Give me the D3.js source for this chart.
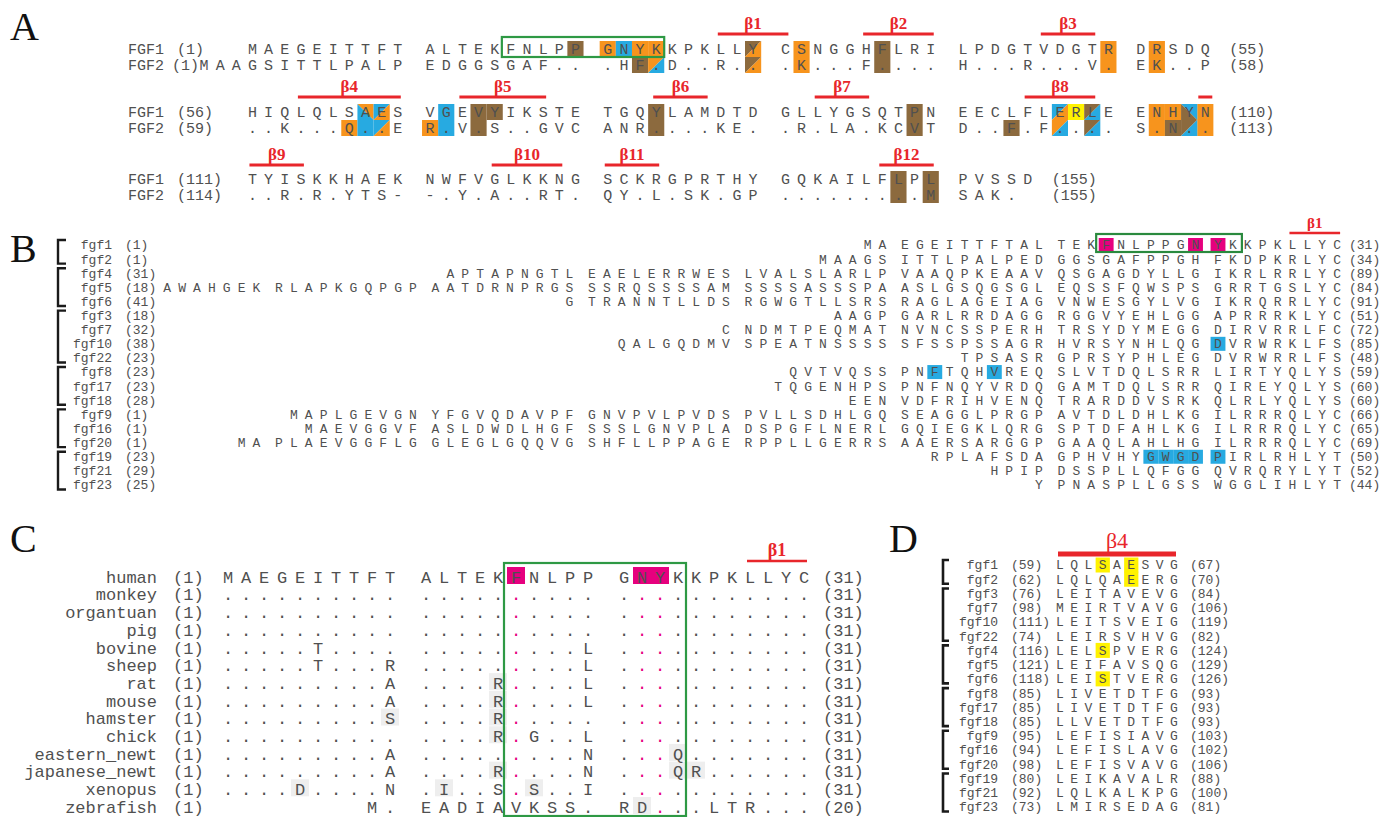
<!DOCTYPE html>
<html><head><meta charset="utf-8">
<script src="https://cdn.jsdelivr.net/npm/d3@7"></script>
<style>
html,body{margin:0;padding:0;background:#fff;}
svg{display:block;}
</style></head><body>
<svg id="fig" width="1382" height="817"></svg>
<script>
// ---------- Panel A: FGF1 / FGF2 pairwise alignment ----------
const alignA_fgf1 = [
  "   MAEGEITTFT ALTEKFNLPP GNYKKPKLLY CSNGGHFLRI LPDGTVDGTR DRSDQ",
  "   HIQLQLSAES VGEVYIKSTE TGQYLAMDTD GLLYGSQTPN EECLFLERLE ENHYN",
  "   TYISKKHAEK NWFVGLKKNG SCKRGPRTHY GQKAILFLPL PVSSD"
];
const alignA_fgf2 = [
  "MAAGSITTLPALP EDGGSGAF.. .HF.D..R.. .K...F.... H...R...V. EK..P",
  "   ..K...Q..E R.V.S..GVC ANR....KE. .R.LA.KCVT D..F.F.... S.N..",
  "   ..R.R.YTS- -.Y.A..RT. QY.L.SK.GP .........M SAK."
];
const alignA_startFgf1 = [1, 56, 111];
const alignA_startFgf2 = [1, 59, 114];
const alignA_endFgf1 = [55, 110, 155];
const alignA_endFgf2 = [58, 113, 155];
// shaded cells: [line, sequence (0 = FGF1, 1 = FGF2), FGF1 residue column, colour]
const shadeA = [
  [0,0,20,"brown"],[0,0,21,"orange"],[0,0,22,"blue"],[0,0,23,"orange"],[0,0,24,"orange"],
  [0,1,23,"brown"],[0,0,32,"orange"],[0,1,32,"orange"],[0,0,37,"brown"],[0,1,37,"brown"],
  [0,0,50,"orange"],[0,1,50,"orange"],[0,0,52,"orange"],[0,1,52,"orange"],
  [1,1,62,"orange"],[1,1,63,"blue"],[1,1,66,"orange"],[1,0,67,"blue"],[1,1,67,"blue"],
  [1,0,69,"brown"],[1,0,70,"brown"],[1,1,69,"brown"],[1,0,79,"brown"],[1,1,79,"brown"],
  [1,0,94,"brown"],[1,1,94,"brown"],[1,1,99,"brown"],[1,0,103,"yellow"],
  [1,0,107,"orange"],[1,1,107,"orange"],[1,0,108,"orange"],[1,1,108,"brown"],
  [1,0,110,"orange"],[1,1,110,"orange"],
  [2,0,148,"brown"],[2,1,148,"brown"],[2,0,150,"brown"],[2,1,150,"brown"]
];
// two-colour cells: [line, sequence, residue, diagonal, first, second]
// "\\" = upper-left / lower-right halves, "/" = upper-right / lower-left halves
const splitA = [
  [0,1,24,"\\","orange","blue"],
  [0,0,30,"\\","brown","orange"],[0,1,30,"\\","brown","orange"],
  [1,0,63,"/","orange","blue"],[1,0,64,"\\","blue","orange"],[1,1,64,"\\","blue","orange"],
  [1,0,102,"\\","blue","orange"],[1,1,102,"\\","orange","blue"],
  [1,0,104,"\\","brown","blue"],[1,1,104,"\\","brown","blue"],
  [1,0,109,"/","blue","brown"],[1,1,109,"\\","brown","blue"]
];
// beta strands: [line, label, first residue, last residue]
const strandsA = [
  [0,"β1",28,31],[0,"β2",36,40],[0,"β3",46,49],
  [1,"β4",59,65],[1,"β5",68,73],[1,"β6",79,82],[1,"β7",88,91],[1,"β8",100,104],[1,"",110,110],
  [2,"β9",111,114],[2,"β10",125,129],[2,"β11",131,134],[2,"β12",147,150]
];
const motifA = [16, 24];

// ---------- Panel B: FGF family N-terminal region ----------
const famB_names = ["fgf1","fgf2","fgf4","fgf5","fgf6","fgf3","fgf7","fgf10","fgf22",
  "fgf8","fgf17","fgf18","fgf9","fgf16","fgf20","fgf19","fgf21","fgf23"];
const famB_start = [1,1,31,18,41,18,32,38,23,23,23,28,1,1,1,23,29,25];
const famB_end = [31,34,89,84,91,51,72,85,48,59,60,60,66,65,69,50,52,44];
const famB_seq = [
  "MA EGEITTFTAL TEKFNLPPGN YKKPKLLYC",
  "MAAGS ITTLPALPED GGSGAFPPGH FKDPKRLYC",
  "APTAPNGTL EAELERRWES LVALSLARLP VAAQPKEAAV QSGAGDYLLG IKRLRRLYC",
  "AWAHGEK RLAPKGQPGP AATDRNPRGS SSRQSSSSAM SSSSASSSPA ASLGSQGSGL EQSSFQWSPS GRRTGSLYC",
  "G TRANNTLLDS RGWGTLLSRS RAGLAGEIAG VNWESGYLVG IKRQRRLYC",
  "AAGP GARLRRDAGG RGGVYEHLGG APRRRKLYC",
  "C NDMTPEQMAT NVNCSSPERH TRSYDYMEGG DIRVRRLFC",
  "QALGQDMV SPEATNSSSS SFSSPSSAGR HVRSYNHLQG DVRWRKLFS",
  "TPSASR GPRSYPHLEG DVRWRRLFS",
  "QVTVQSS PNFTQHVREQ SLVTDQLSRR LIRTYQLYS",
  "TQGENHPS PNFNQYVRDQ GAMTDQLSRR QIREYQLYS",
  "EEN VDFRIHVENQ TRARDDVSRK QLRLYQLYS",
  "MAPLGEVGN YFGVQDAVPF GNVPVLPVDS PVLLSDHLGQ SEAGGLPRGP AVTDLDHLKG ILRRRQLYC",
  "MAEVGGVF ASLDWDLHGF SSSLGNVPLA DSPGFLNERL GQIEGKLQRG SPTDFAHLKG ILRRRQLYC",
  "MA PLAEVGGFLG GLEGLGQQVG SHFLLPPAGE RPPLLGERRS AAERSARGGP GAAQLAHLHG ILRRRQLYC",
  "RPLAFSDA GPHVHYGWGD PIRLRHLYT",
  "HPIP DSSPLLQFGG QVRQRYLYT",
  "Y PNASPLLGSS WGGLIHLYT"
];
const groupsB = [["fgf1","fgf2"],["fgf4","fgf5","fgf6"],["fgf3","fgf7","fgf10","fgf22"],
  ["fgf8","fgf17","fgf18"],["fgf9","fgf16","fgf20"],["fgf19","fgf21","fgf23"]];
// shaded cells: [name, block counted from the right, column in block, colour]
const shadeB = [["fgf1",1,3,"magenta"],["fgf1",1,9,"magenta"],["fgf1",0,0,"magenta"],
  ["fgf10",0,0,"blue"],["fgf8",2,2,"blue"],["fgf8",2,6,"blue"],
  ["fgf19",1,6,"blue"],["fgf19",1,7,"blue"],["fgf19",1,8,"blue"],["fgf19",1,9,"blue"],["fgf19",0,0,"blue"]];
const motifB = ["fgf1", [1,3], [0,1]];
const strandB = ["β1", [0,5], [0,8]];

// ---------- Panel C: FGF1 N-terminus across species ----------
const speciesC = ["human","monkey","organtuan","pig","bovine","sheep","rat","mouse",
  "hamster","chick","eastern_newt","japanese_newt","xenopus","zebrafish"];
const startC = [1,1,1,1,1,1,1,1,1,1,1,1,1,1];
const endC = [31,31,31,31,31,31,31,31,31,31,31,31,31,20];
const seqC = [
  "MAEGEITTFT ALTEKFNLPP GNYKKPKLLYC",
  ".......... .......... ...........",
  ".......... .......... ...........",
  ".......... .......... ...........",
  ".....T.... .........L ...........",
  ".....T...R .........L ...........",
  ".........A ....R....L ...........",
  ".........A ....R....L ...........",
  ".........S ....R..... ...........",
  ".......... ....R.G..L ...........",
  ".........A .........N ...Q.......",
  ".........A ....R....N ...QR......",
  "....D....N .I..S.S..I ...........",
  "        M. EADIAVKSS. RD...LTR..."
];
const keyResC = [16, 22, 23];
// light grey cells: [species, alignment slot]
const greyC = [["hamster",9],["rat",15],["mouse",15],["hamster",15],["chick",15],["japanese_newt",15],
  ["eastern_newt",25],["japanese_newt",25],["japanese_newt",26],["xenopus",4],["xenopus",12],
  ["xenopus",17],["zebrafish",23]];
const motifC = [16, 25];
const strandC = ["β1", 28, 31];

// ---------- Panel D: beta4 strand across the family ----------
const famD_names = ["fgf1","fgf2","fgf3","fgf7","fgf10","fgf22","fgf4","fgf5","fgf6",
  "fgf8","fgf17","fgf18","fgf9","fgf16","fgf20","fgf19","fgf21","fgf23"];
const famD_start = [59,62,76,98,111,74,116,121,118,85,85,85,95,94,98,80,92,73];
const famD_end = [67,70,84,106,119,82,124,129,126,93,93,93,103,102,106,88,100,81];
const famD_seq = ["LQLSAESVG","LQLQAEERG","LEITAVEVG","MEIRTVAVG","LEITSVEIG","LEIRSVHVG",
  "LELSPVERG","LEIFAVSQG","LEISTVERG","LIVETDTFG","LIVETDTFG","LLVETDTFG",
  "LEFISIAVG","LEFISLAVG","LEFISVAVG","LEIKAVALR","LQLKALKPG","LMIRSEDAG"];
const groupsD = [["fgf1","fgf2"],["fgf3","fgf7","fgf10","fgf22"],["fgf4","fgf5","fgf6"],
  ["fgf8","fgf17","fgf18"],["fgf9","fgf16","fgf20"],["fgf19","fgf21","fgf23"]];
const shadeD = [["fgf1",3],["fgf1",5],["fgf2",5],["fgf4",3],["fgf6",3]];
const strandD = ["β4", 0, 8];

// ---------- drawing ----------
const palette = {orange:"#f7941d", blue:"#27aae1", brown:"#8c6a3e", yellow:"#fff200",
  magenta:"#e6007e", grey:"#eeeeee"};
const RED = "#e8262b", GREEN = "#2e9944", INK = "#505050";
const MONO = "'Liberation Mono','DejaVu Sans Mono',monospace";
const SERIF = "'Liberation Serif','DejaVu Serif',serif";
const svg = d3.select("#fig");

function residueSlots(str, first) {
  const m = new Map(); let n = first;
  for (let i = 0; i < str.length; i++) if (str[i] !== " ") { m.set(n, i); n++; }
  return m;
}
function seqText(g, chars, size, fill) {
  g.selectAll(null).data(chars).join("text")
    .attr("x", d => d.x).attr("y", d => d.y + size * 0.34)
    .attr("text-anchor", "middle").attr("font-family", MONO)
    .attr("font-size", size).attr("fill", d => d.fill || fill).text(d => d.ch);
}
function label(g, txt, x, y, size, anchor, opts = {}) {
  return g.append("text").attr("x", x).attr("y", y + size * 0.34)
    .attr("text-anchor", anchor).attr("font-family", opts.family || MONO)
    .attr("font-size", size).attr("font-weight", opts.weight || "normal")
    .attr("fill", opts.fill || INK).text(txt);
}
function panelLetter(txt, x, y) {
  svg.append("text").attr("x", x).attr("y", y).attr("font-family", SERIF)
    .attr("font-size", 40).attr("fill", "#111").text(txt);
}
function strand(g, x1, x2, yBar, lbl, size, width, weight) {
  g.append("line").attr("x1", x1).attr("x2", x2).attr("y1", yBar).attr("y2", yBar)
    .attr("stroke", RED).attr("stroke-width", width);
  if (lbl) g.append("text").attr("x", (x1 + x2) / 2).attr("y", yBar - width / 2 - 4)
    .attr("text-anchor", "middle").attr("font-family", SERIF).attr("font-size", size)
    .attr("font-weight", weight).attr("fill", RED).text(lbl);
}
function bracket(g, x, y1, y2, tick, w) {
  g.append("path").attr("d", `M${x + tick},${y1}H${x}V${y2}H${x + tick}`)
    .attr("fill", "none").attr("stroke", "#1a1a1a").attr("stroke-width", w)
    .attr("stroke-linecap", "butt");
}
function splitCell(g, x0, y0, w, h, dir, c1, c2) {
  const x1 = x0 + w, y1 = y0 + h;
  const tri = dir === "\\"
    ? [[[x0,y0],[x1,y0],[x0,y1]], [[x1,y0],[x1,y1],[x0,y1]]]
    : [[[x0,y0],[x1,y0],[x1,y1]], [[x0,y0],[x1,y1],[x0,y1]]];
  [c1, c2].forEach((c, i) => g.append("path").attr("d", d3.line()(tri[i]) + "Z")
    .attr("fill", palette[c]));
}

// Panel A
(function () {
  const g = svg.append("g");
  const xA = d3.scaleLinear().domain([0, 62]).range([204, 1205.3]);
  const lineY = d3.scaleOrdinal().domain([0, 1, 2]).range([49, 112, 179]);
  const pitch = xA(1) - xA(0), rowStep = 16, fs = 15;
  const slots = alignA_fgf1.map((s, i) => residueSlots(s, alignA_startFgf1[i]));
  const rowY = (line, seq) => lineY(line) + seq * rowStep;
  const cellTop = (line, seq) => rowY(line, seq) - 8;

  shadeA.forEach(([line, seq, res, c]) => {
    g.append("rect").attr("x", xA(slots[line].get(res)) - pitch / 2).attr("y", cellTop(line, seq))
      .attr("width", pitch).attr("height", rowStep).attr("fill", palette[c]);
  });
  splitA.forEach(([line, seq, res, dir, c1, c2]) => {
    splitCell(g, xA(slots[line].get(res)) - pitch / 2, cellTop(line, seq), pitch, rowStep, dir, c1, c2);
  });
  // receptor-binding motif frame
  g.append("rect").attr("x", xA(slots[0].get(motifA[0])) - 9).attr("y", lineY(0) - 12)
    .attr("width", xA(slots[0].get(motifA[1])) - xA(slots[0].get(motifA[0])) + 17)
    .attr("height", 20).attr("fill", "none").attr("stroke", GREEN).attr("stroke-width", 2.2);

  [alignA_fgf1, alignA_fgf2].forEach((rows, seq) => {
    rows.forEach((s, line) => {
      const y = rowY(line, seq);
      seqText(g, [...s].map((ch, i) => ({ ch, x: xA(i), y })).filter(d => d.ch !== " "), fs, INK);
      const starts = seq === 0 ? alignA_startFgf1 : alignA_startFgf2;
      const ends = seq === 0 ? alignA_endFgf1 : alignA_endFgf2;
      label(g, seq === 0 ? "FGF1" : "FGF2", 128, y, fs, "start");
      // a start number runs straight into a sequence that begins in the first slot
      if (s[0] !== " ") label(g, `(${starts[line]})`, xA(0) - pitch / 2 + 3, y, fs, "end");
      else label(g, `(${starts[line]})`, 177, y, fs, "start");
      const last = Math.max(alignA_fgf1[line].length, alignA_fgf2[line].length) - 1;
      label(g, `(${ends[line]})`, xA(last) + 24, y, fs, "start");
    });
  });
  const barY = d3.scaleOrdinal().domain([0, 1, 2]).range([34, 97, 165]);
  strandsA.forEach(([line, lbl, a, b]) => {
    const pad = a === b ? 7 : 3;
    strand(g, xA(slots[line].get(a)) - pad, xA(slots[line].get(b)) + pad, barY(line), lbl, 17, 3, "bold");
  });
  panelLetter("A", 10, 40);
})();

// Panel B
(function () {
  const g = svg.append("g");
  const nBlocks = 8;
  const blockX = d3.scaleLinear().domain([0, nBlocks - 1]).range([122.5, 1218]);
  const colX = d3.scaleLinear().domain([0, 9]).range([0, 134]);
  const pitch = colX(1) - colX(0);
  const yB = d3.scalePoint().domain(famB_names).range([245, 485]);
  const fs = 13;
  // block counted from the right -> x of a column inside it
  const xB = (blkR, col) => blockX(nBlocks - 1 - blkR) + colX(col);

  shadeB.forEach(([name, blk, col, c]) => {
    g.append("rect").attr("x", xB(blk, col) - pitch / 2).attr("y", yB(name) - 7)
      .attr("width", pitch).attr("height", 14).attr("fill", palette[c]);
  });
  const [mName, mA, mB] = motifB;
  g.append("rect").attr("x", xB(...mA) - 10).attr("y", yB(mName) - 11)
    .attr("width", xB(...mB) - xB(...mA) + 19).attr("height", 18)
    .attr("fill", "none").attr("stroke", "#2a8a3e").attr("stroke-width", 2.2);

  famB_seq.forEach((s, r) => {
    const name = famB_names[r], y = yB(name);
    const blocks = s.split(" ").reverse();
    const chars = [];
    blocks.forEach((blk, bi) => {
      const width = bi === 0 ? blk.length : 10;
      const offset = bi === 0 ? 0 : width - blk.length;
      [...blk].forEach((ch, i) => chars.push({ ch, x: xB(bi, offset + i), y }));
    });
    seqText(g, chars, fs, INK);
    label(g, name, 112, y, fs, "end");
    label(g, `(${famB_start[r]})`, 125, y, fs, "start");
    label(g, `(${famB_end[r]})`, 1349, y, fs, "start");
  });
  groupsB.forEach(grp => bracket(g, 58, yB(grp[0]) - 5, yB(grp[grp.length - 1]) + 4.5, 8, 2.4));
  strand(g, xB(...strandB[1]) - 3, xB(...strandB[2]) + 3, 233, strandB[0], 15, 2.5, "bold");
  panelLetter("B", 10, 262);
})();

// Panel C
(function () {
  const g = svg.append("g");
  const xC = d3.scaleLinear().domain([0, 32]).range([228, 804]);
  const yC = d3.scalePoint().domain(speciesC).range([577, 807]);
  const pitch = xC(1) - xC(0), fs = 17;
  const humanSlots = residueSlots(seqC[0], 1);
  const keySlots = keyResC.map(r => humanSlots.get(r));

  greyC.forEach(([sp, slot]) => {
    g.append("rect").attr("x", xC(slot) - pitch / 2).attr("y", yC(sp) - 10)
      .attr("width", pitch).attr("height", 17).attr("fill", palette.grey);
  });
  keySlots.forEach(slot => {
    g.append("rect").attr("x", xC(slot) - pitch / 2).attr("y", yC(speciesC[0]) - 10)
      .attr("width", pitch).attr("height", 17).attr("fill", palette.magenta);
  });
  seqC.forEach((s, r) => {
    const sp = speciesC[r], y = yC(sp);
    const chars = [...s].map((ch, i) => ({ ch, x: xC(i), y,
      fill: (ch === "." && keySlots.includes(i)) ? palette.magenta : null }))
      .filter(d => d.ch !== " ");
    seqText(g, chars, fs, INK);
    label(g, sp, 157, y, fs, "end");
    label(g, `(${startC[r]})`, 173, y, fs, "start");
    label(g, `(${endC[r]})`, xC(32) + 19, y, fs, "start");
  });
  const sA = humanSlots.get(motifC[0]), sB = motifC[1];
  g.append("rect").attr("x", xC(sA) - 12).attr("y", 563)
    .attr("width", xC(sB) - xC(sA) + 20).attr("height", 253)
    .attr("fill", "none").attr("stroke", GREEN).attr("stroke-width", 2.2);
  strand(g, xC(humanSlots.get(strandC[1])) - 3, xC(humanSlots.get(strandC[2])) + 3, 561,
    strandC[0], 18, 2.5, "bold");
  panelLetter("C", 10, 552);
})();

// Panel D
(function () {
  const g = svg.append("g");
  const xD = d3.scaleLinear().domain([0, 8]).range([1060, 1174]);
  const yD = d3.scalePoint().domain(famD_names).range([565, 807]);
  const pitch = xD(1) - xD(0), fs = 13;
  shadeD.forEach(([name, col]) => {
    g.append("rect").attr("x", xD(col) - pitch / 2).attr("y", yD(name) - 7.5)
      .attr("width", pitch).attr("height", 15).attr("fill", palette.yellow);
  });
  famD_seq.forEach((s, r) => {
    const name = famD_names[r], y = yD(name);
    seqText(g, [...s].map((ch, i) => ({ ch, x: xD(i), y })), fs, INK);
    label(g, name, 998, y, fs, "end");
    label(g, `(${famD_start[r]})`, 1011, y, fs, "start");
    label(g, `(${famD_end[r]})`, xD(8) + 16, y, fs, "start");
  });
  groupsD.forEach(grp => bracket(g, 943, yD(grp[0]) - 5, yD(grp[grp.length - 1]) + 4.5, 6, 2.6));
  strand(g, xD(strandD[1]) - 2, xD(strandD[2]) + 2, 554, strandD[0], 22, 5, "normal");
  panelLetter("D", 889, 552);
})();
</script>
</body></html>
